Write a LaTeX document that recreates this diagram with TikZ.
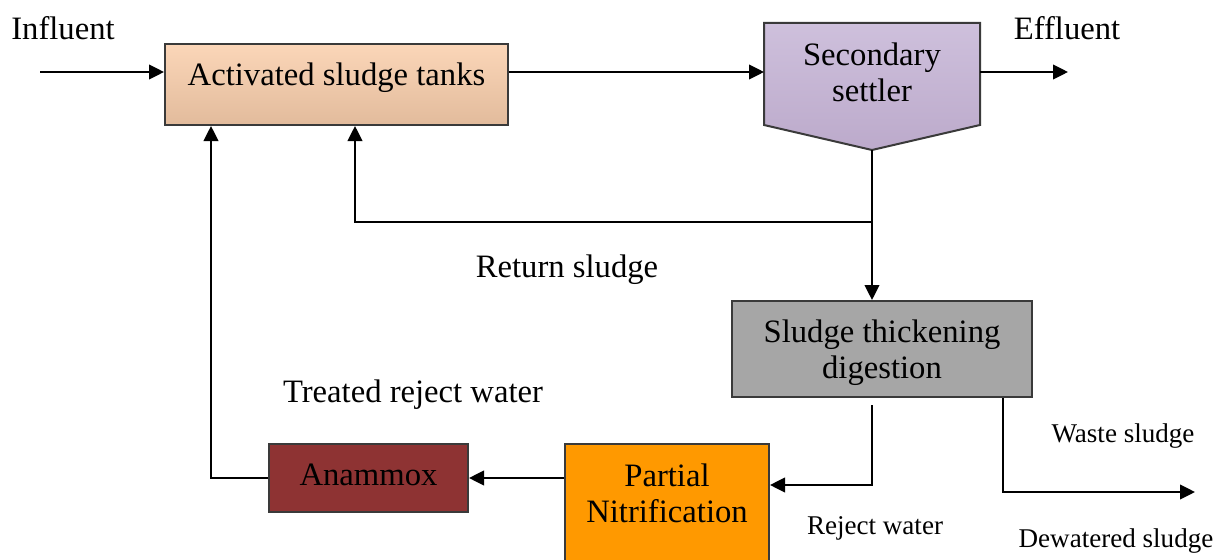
\documentclass[tikz,border=0pt]{standalone}
\usepackage{fontspec}
\setmainfont{Liberation Serif}
\usetikzlibrary{arrows.meta}
\definecolor{boxline}{HTML}{3A3A3A}
\definecolor{actTop}{HTML}{FBD6B8}
\definecolor{actBot}{HTML}{E2BB9C}
\definecolor{setTop}{HTML}{CEC0DC}
\definecolor{setBot}{HTML}{BCAACB}
\definecolor{thickFill}{HTML}{A6A6A6}
\definecolor{anFill}{HTML}{8E3333}
\definecolor{pnFill}{HTML}{FF9900}
\begin{document}
\begin{tikzpicture}[x=0.75pt,y=-0.75pt,
  box/.style={draw=boxline, line width=1.5pt, inner sep=0pt},
  conn/.style={line width=1.5pt, draw=black},
  arr/.style={conn, -{Triangle[length=11.25pt,width=11pt]}},
  big/.style={font=\fontsize{24.5}{27}\selectfont, align=center, inner sep=0pt},
  small/.style={font=\fontsize{20.3}{24}\selectfont, inner sep=0pt}]
\useasboundingbox (0,0) rectangle (1217,560);
\clip (0,0) rectangle (1217,560);
% boxes
\node[box, top color=actTop, bottom color=actBot, minimum width=257.25pt, minimum height=60.75pt] (act) at (336.5,84.5) {};
\node[big, anchor=base] (actT) at (336.5,85) {Activated sludge tanks};
\path[box, draw=boxline, top color=setTop, bottom color=setBot] (764,23) -- (980,23) -- (980,125) -- (872,150) -- (764,125) -- cycle;
\coordinate (setW) at (764,72);
\coordinate (setE) at (980,72);
\coordinate (setS) at (872,150);
\node[big] (settler) at (872,72.5) {Secondary\\settler};
\node[box, fill=thickFill, minimum width=225pt, minimum height=72pt] (thick) at (882,349) {};
\node[big] (thickT) at (882,352.5) {Sludge thickening\\digestion};
\node[box, fill=anFill, minimum width=149.25pt, minimum height=51pt] (an) at (368.5,478) {};
\node[big, anchor=base] (anT) at (368.5,485) {Anammox};
\node[box, fill=pnFill, minimum width=153pt, minimum height=117pt] (pn) at (667,522) {};
\node[big] (pnT) at (667,493) {Partial\\Nitrification};
% coordinates
\coordinate (inS) at (40,72);
\coordinate (effE) at (1068,72);
\coordinate (ret) at (872,222);
\coordinate (ret2) at (355,222);
\coordinate (rj) at (872,405);
\coordinate (rjc) at (872,485);
\coordinate (ws) at (1003,492);
\coordinate (dw) at (1195,492);
\coordinate (tr) at (211,478);
% connectors
\draw[arr] (inS) -- (inS -| act.west);
\draw[arr] (setW -| act.east) -- (setW);
\draw[arr] (setE) -- (effE);
\draw[arr] (setS) -- (setS |- thick.north);
\draw[arr] (ret) -- (ret2) -- (ret2 |- act.south);
\draw[arr] (rj) -- (rjc) -- (rjc -| pn.east);
\draw[arr] (ws |- thick.south) -- (ws) -- (dw);
\draw[arr] (an.west -| pn.west) -- (an.east);
\draw[arr] (an.west) -- (tr) -- (tr |- act.south);
% labels
\node[big, anchor=base] (lin) at (63,40) {Influent};
\node[big, anchor=base] (leff) at (1067,40) {Effluent};
\node[big, anchor=base] (lret) at (567,277) {Return sludge};
\node[big, anchor=base] (ltr) at (413,402) {Treated reject water};
\node[small, anchor=base] (lws) at (1123,442) {Waste sludge};
\node[small, anchor=base] (ldw) at (1116,547) {Dewatered sludge};
\node[small, anchor=base] (lrj) at (875,534) {Reject water};
\end{tikzpicture}
\end{document}
